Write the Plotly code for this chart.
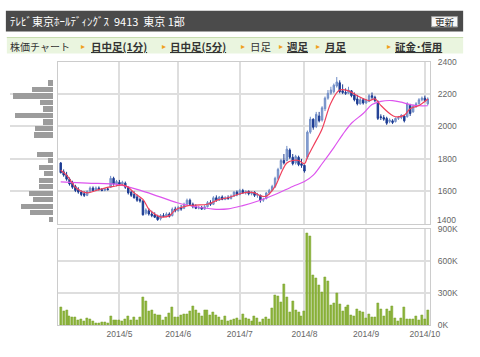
import plotly.graph_objects as go
import pandas as pd

W, H = 480, 357


def fx(x):
    return x / W


def fy(y):
    return 1 - y / H


# ---------------- data ----------------
holidays = ["2014-04-29", "2014-05-05", "2014-05-06", "2014-07-21", "2014-09-15", "2014-09-23"]
dates = [d.strftime("%Y-%m-%d") for d in pd.bdate_range("2014-04-02", "2014-10-02")
         if d.strftime("%Y-%m-%d") not in holidays]

opens = [1775, 1720, 1700, 1675, 1650, 1630, 1610, 1595, 1585, 1575,
         1600, 1620, 1605, 1620, 1610, 1605, 1615, 1625, 1680, 1645,
         1655, 1645, 1650, 1625, 1595, 1580, 1565, 1550, 1540, 1465,
         1480, 1460, 1455, 1445, 1430, 1450, 1445, 1460, 1450, 1490,
         1480, 1500, 1495, 1520, 1545, 1520, 1505, 1495, 1500, 1490,
         1505, 1530, 1520, 1560, 1545, 1565, 1550, 1560, 1555, 1570,
         1595, 1580, 1605, 1590, 1600, 1585, 1595, 1575, 1575, 1545,
         1555, 1590, 1605, 1630, 1680, 1740, 1790, 1790, 1855, 1810,
         1775, 1810, 1770, 1760, 1810, 1965, 2045, 2000, 2065, 2040,
         2110, 2175, 2205, 2215, 2250, 2270, 2220, 2210, 2205, 2220,
         2195, 2170, 2140, 2165, 2145, 2155, 2190, 2180, 2155, 2060,
         2055, 2050, 2030, 2035, 2030, 2050, 2055, 2065, 2060, 2130,
         2090, 2125, 2140, 2165, 2175, 2140]
highs = [1780, 1735, 1720, 1685, 1665, 1640, 1625, 1605, 1600, 1605,
         1630, 1630, 1630, 1630, 1620, 1620, 1625, 1695, 1690, 1670,
         1670, 1665, 1660, 1630, 1605, 1600, 1580, 1560, 1545, 1495,
         1495, 1480, 1470, 1455, 1460, 1465, 1470, 1470, 1500, 1505,
         1510, 1515, 1530, 1555, 1555, 1530, 1520, 1510, 1510, 1515,
         1540, 1545, 1570, 1575, 1570, 1575, 1570, 1575, 1580, 1600,
         1605, 1615, 1615, 1605, 1605, 1600, 1600, 1590, 1580, 1560,
         1595, 1615, 1640, 1690, 1745, 1800, 1830, 1880, 1865, 1830,
         1825, 1820, 1800, 1765, 1975, 2060, 2050, 2090, 2090, 2125,
         2185, 2225, 2245, 2265, 2305, 2285, 2260, 2235, 2245, 2225,
         2210, 2195, 2180, 2175, 2170, 2200, 2210, 2190, 2160, 2075,
         2070, 2060, 2050, 2045, 2055, 2065, 2075, 2070, 2150, 2140,
         2135, 2150, 2175, 2185, 2190, 2180]
lows = [1710, 1690, 1665, 1635, 1615, 1595, 1585, 1570, 1565, 1570,
        1595, 1600, 1600, 1605, 1600, 1600, 1605, 1620, 1635, 1630,
        1635, 1640, 1615, 1580, 1565, 1555, 1535, 1530, 1450, 1455,
        1450, 1440, 1435, 1418, 1420, 1440, 1440, 1438, 1445, 1470,
        1475, 1480, 1490, 1515, 1510, 1495, 1490, 1488, 1485, 1485,
        1500, 1510, 1515, 1535, 1540, 1545, 1545, 1548, 1550, 1565,
        1570, 1575, 1585, 1580, 1575, 1575, 1565, 1560, 1530, 1535,
        1550, 1580, 1600, 1620, 1670, 1735, 1765, 1785, 1800, 1760,
        1765, 1755, 1745, 1715, 1800, 1955, 1980, 1990, 2025, 2030,
        2095, 2165, 2195, 2205, 2240, 2205, 2200, 2195, 2200, 2180,
        2155, 2130, 2135, 2135, 2140, 2150, 2165, 2150, 2040, 2040,
        2035, 2010, 2020, 2015, 2025, 2040, 2045, 2025, 2055, 2065,
        2085, 2115, 2135, 2155, 2150, 2130]
closes = [1715, 1700, 1675, 1645, 1625, 1605, 1595, 1580, 1575, 1600,
          1620, 1605, 1620, 1610, 1605, 1615, 1610, 1680, 1645, 1660,
          1645, 1655, 1625, 1590, 1575, 1560, 1545, 1540, 1455, 1485,
          1460, 1450, 1440, 1425, 1450, 1445, 1460, 1445, 1490, 1480,
          1500, 1490, 1520, 1545, 1520, 1505, 1495, 1500, 1490, 1505,
          1530, 1520, 1560, 1545, 1565, 1550, 1560, 1555, 1570, 1595,
          1580, 1605, 1590, 1600, 1585, 1595, 1575, 1580, 1545, 1550,
          1590, 1605, 1630, 1680, 1735, 1790, 1775, 1860, 1810, 1770,
          1815, 1765, 1760, 1725, 1965, 2045, 1995, 2075, 2035, 2115,
          2175, 2205, 2225, 2255, 2275, 2215, 2210, 2205, 2225, 2190,
          2165, 2140, 2165, 2145, 2160, 2190, 2180, 2160, 2050, 2055,
          2045, 2020, 2040, 2025, 2050, 2055, 2070, 2035, 2140, 2080,
          2125, 2140, 2165, 2175, 2160, 2170]

volumes_k = [168, 132, 141, 87, 81, 81, 51, 60, 42, 63,
             57, 42, 18, 18, 33, 27, 24, 87, 51, 51,
             45, 42, 57, 84, 45, 75, 51, 78, 267, 231,
             132, 138, 105, 96, 93, 48, 78, 111, 174, 81,
             81, 96, 102, 102, 132, 177, 138, 114, 87, 138,
             138, 99, 123, 93, 78, 48, 87, 42, 51, 57,
             63, 51, 105, 69, 54, 42, 87, 69, 30, 54,
             78, 60, 162, 282, 273, 216, 384, 264, 126, 231,
             147, 123, 84, 132, 864, 834, 471, 438, 372, 309,
             453, 414, 192, 204, 297, 198, 132, 174, 186, 96,
             90, 150, 132, 123, 63, 105, 78, 78, 204, 156,
             84, 153, 132, 177, 69, 42, 72, 168, 60, 54,
             54, 90, 51, 93, 60, 147]
volumes = [v * 1000 for v in volumes_k]

# moving averages (day index -> value)
ma_short_idx = [0, 2, 4, 5, 9, 12, 15, 18, 21, 23, 25, 28, 30, 32, 34, 37, 39, 43, 46, 50,
                54, 57, 61, 64, 66, 68, 70, 73, 75, 77, 79, 81, 83, 84, 86, 89, 92, 95, 98, 101,
                105, 107, 109, 112, 114, 117, 119, 122, 125]
ma_short_val = [1730, 1700, 1650, 1625, 1590, 1605, 1620, 1630, 1640, 1625, 1590, 1550, 1490, 1460,
                1442, 1450, 1485, 1510, 1515, 1520, 1550, 1560, 1585, 1595, 1590, 1572, 1570, 1630,
                1710, 1775, 1790, 1790, 1770, 1810, 1880, 1985, 2145, 2225, 2220, 2190, 2160, 2170,
                2130, 2080, 2060, 2070, 2110, 2130, 2170]
ma_long_idx = [0, 9, 20, 29, 40, 46, 52, 57, 62, 68, 73, 79, 83, 86, 89, 93, 96, 99, 103, 106,
               109, 113, 116, 119, 122, 125]
ma_long_val = [1658, 1650, 1640, 1595, 1528, 1505, 1490, 1492, 1512, 1545, 1580, 1630, 1660, 1700,
               1770, 1870, 1950, 2020, 2080, 2135, 2155, 2160, 2150, 2135, 2128, 2128]

# volume by price (left profile)
profile_price = [2270, 2230, 2190, 2150, 2110, 2070, 2030, 1990, 1950,
                 1830, 1790, 1750, 1710, 1670, 1630, 1590, 1550, 1510, 1470, 1430]
profile_vol = [600, 2160, 4160, 1360, 1100, 3930, 1030, 1860, 1930,
               1660, 560, 1460, 1000, 1460, 1460, 2500, 2060, 3330, 2360, 430]

month_ticks = ["2014-05-01", "2014-06-02", "2014-07-01", "2014-08-01", "2014-09-01", "2014-10-01"]
month_labels = ["2014/5", "2014/6", "2014/7", "2014/8", "2014/9", "2014/10"]
price_grid = [1400, 1600, 1800, 2000, 2200, 2400]
price_labels = ["", "1600", "1800", "2000", "2200", "2400"]
vol_ticks = [0, 300000, 600000, 900000]
vol_labels = ["0K", "300K", "600K", "900K"]

# ---------------- figure ----------------
GRID = "#dedede"
TICKF = dict(family="Liberation Sans, Arial, sans-serif", size=8.5, color="#666666")

fig = go.Figure()

fig.add_trace(go.Bar(
    x=profile_vol, y=profile_price, orientation="h", xaxis="x3", yaxis="y",
    width=32, marker=dict(color="#9c9c9c", line=dict(width=0)), hoverinfo="skip"))

fig.add_trace(go.Candlestick(
    x=dates, open=opens, high=highs, low=lows, close=closes,
    xaxis="x", yaxis="y",
    increasing=dict(fillcolor="#95abd6", line=dict(color="#6f8cc6", width=1)),
    decreasing=dict(fillcolor="#1d3c93", line=dict(color="#1d3c93", width=1)),
    whiskerwidth=0))

fig.add_trace(go.Scatter(
    x=[dates[i] for i in ma_long_idx], y=ma_long_val, mode="lines",
    line=dict(color="#dd55ee", width=1.2, shape="spline"), xaxis="x", yaxis="y"))
fig.add_trace(go.Scatter(
    x=[dates[i] for i in ma_short_idx], y=ma_short_val, mode="lines",
    line=dict(color="#f0405c", width=1.2, shape="spline"), xaxis="x", yaxis="y"))

fig.add_trace(go.Bar(
    x=dates, y=volumes, xaxis="x2", yaxis="y2", width=0.68,
    marker=dict(color="#8db43a", line=dict(color="#7aa02c", width=0.5))))

xr = [-0.9, 125.8]
fig.update_layout(
    width=W, height=H, margin=dict(l=0, r=0, t=0, b=0),
    paper_bgcolor="white", plot_bgcolor="white", showlegend=False,
    bargap=0,
    xaxis=dict(domain=[fx(59.3), fx(439.3)], anchor="y", type="category",
               categoryorder="array", categoryarray=dates, range=xr,
               tickvals=month_ticks, ticktext=month_labels, showticklabels=False,
               showgrid=True, gridcolor=GRID, gridwidth=1.5, ticks="",
               showline=True, mirror=True, linecolor="#cccccc", linewidth=1,
               rangeslider=dict(visible=False), zeroline=False),
    yaxis=dict(domain=[fy(225), fy(58.3)], anchor="x", side="right", range=[1400, 2400],
               tickvals=price_grid, ticktext=price_labels, showgrid=True, gridcolor=GRID,
               gridwidth=1.5, showline=True, mirror=True, linecolor="#cccccc", linewidth=1,
               tickfont=TICKF, ticks="", ticklabelstandoff=5, zeroline=False),
    xaxis2=dict(domain=[fx(59.3), fx(439.3)], anchor="y2", type="category",
                categoryorder="array", categoryarray=dates, range=xr,
                tickvals=month_ticks, ticktext=month_labels, tickfont=TICKF,
                showgrid=True, gridcolor=GRID, gridwidth=1.5, ticks="",
                showline=True, mirror=True, linecolor="#cccccc", linewidth=1, zeroline=False),
    yaxis2=dict(domain=[fy(329.7), fy(230.7)], anchor="x2", side="right", range=[0, 900000],
                tickvals=vol_ticks, ticktext=vol_labels, showgrid=True, gridcolor=GRID,
                gridwidth=1.5, showline=True, mirror=True, linecolor="#cccccc", linewidth=1,
                tickfont=TICKF, ticks="", ticklabelstandoff=5, zeroline=False),
    xaxis3=dict(domain=[fx(10), fx(54.3)], anchor="y", range=[4430, 0], visible=False),
)

JP = "Noto Sans CJK JP, sans-serif"
shapes = [
    dict(type="rect", xref="paper", yref="paper", x0=fx(6), x1=fx(473), y0=fy(27.3), y1=fy(6),
         fillcolor="#4b4b4b", line=dict(width=0), layer="below"),
    dict(type="rect", xref="paper", yref="paper", x0=fx(440.7), x1=fx(467.3), y0=fy(22.5), y1=fy(12),
         fillcolor="#f7f7f7", line=dict(color="#a0a0a0", width=1)),
    dict(type="rect", xref="paper", yref="paper", x0=fx(7), x1=fx(473), y0=fy(50), y1=fy(33),
         fillcolor="#eaf5df", line=dict(width=0), layer="below"),
    dict(type="line", xref="paper", yref="paper", x0=fx(7), x1=fx(473), y0=fy(33.5), y1=fy(33.5),
         line=dict(color="#c6dcae", width=1)),
]
fig.update_layout(shapes=shapes)

ann = []


def text(x, y, s, size=11, color="#333333", anchor="left", family=JP):
    ann.append(dict(xref="paper", yref="paper", x=fx(x), y=fy(y), text=s, showarrow=False,
                    xanchor=anchor, yanchor="middle", font=dict(family=family, size=size, color=color)))


text(8, 16.8, "ﾃﾚﾋﾞ東京ﾎｰﾙﾃﾞｨﾝｸﾞｽ&nbsp;&nbsp;9413&nbsp;&nbsp;東京 1部", size=11, color="#ffffff")
text(454, 17.3, "更新", size=9.5, color="#222222", anchor="center")
text(8, 42.5, "株価チャート", size=10, color="#333333")

nav = [(83, 90.5, "<b><u>日中足(1分)</u></b>"),
       (165, 171.5, "<b><u>日中足(5分)</u></b>"),
       (246, 253, "日足"),
       (285, 291.5, "<b><u>週足</u></b>"),
       (323, 330, "<b><u>月足</u></b>"),
       (395, 401, "<b><u>証金･信用</u></b>")]
for tx, lx, s in nav:
    text(tx - 2, 42, "▸", size=8, color="#f0a020")
    text(lx, 42.5, s, size=10.5, color="#333333")

# bottom price label sits just above the volume panel's top label
text(444.5, 221.0, "1400", size=8.5, color="#666666", family="Liberation Sans, Arial, sans-serif")

fig.update_layout(annotations=ann)

fig.write_html("out.html", config={"displayModeBar": False},
               post_script="document.body.style.margin='0';")
